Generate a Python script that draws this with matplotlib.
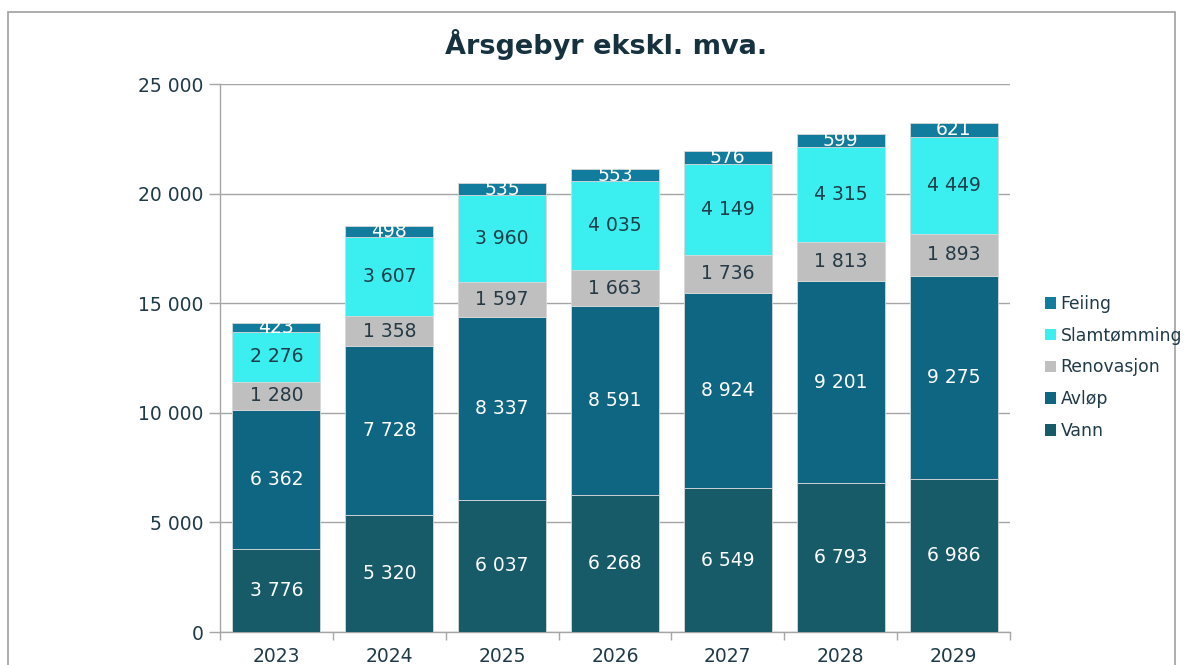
import matplotlib
matplotlib.use("Agg")
import matplotlib.pyplot as plt
from matplotlib.patches import Rectangle, Patch

years = ["2023", "2024", "2025", "2026", "2027", "2028", "2029"]
vann = [3776, 5320, 6037, 6268, 6549, 6793, 6986]
avlop = [6362, 7728, 8337, 8591, 8924, 9201, 9275]
renovasjon = [1280, 1358, 1597, 1663, 1736, 1813, 1893]
slamtomming = [2276, 3607, 3960, 4035, 4149, 4315, 4449]
feiing = [423, 498, 535, 553, 576, 599, 621]

series = [
    ("Vann", vann, "#175A68", "white"),
    ("Avløp", avlop, "#0E6682", "white"),
    ("Renovasjon", renovasjon, "#BFBFBF", "#253A46"),
    ("Slamtømming", slamtomming, "#3BEFF0", "#1E3C48"),
    ("Feiing", feiing, "#127C9E", "white"),
]
yticks = [0, 5000, 10000, 15000, 20000, 25000]
title = "Årsgebyr ekskl. mva."

def fmt(v):
    return f"{v:,}".replace(",", " ")

plt.rcParams['font.family'] = ['DejaVu Sans']
txt = "#1F3A48"

fig = plt.figure(figsize=(11.93, 6.65), dpi=100)
W, H = 1193, 665
ax = fig.add_axes([220 / W, 1 - 632 / H, (1010 - 220) / W, (632 - 84) / H])

x = list(range(len(years)))
bottom = [0] * len(years)
for name, vals, col, tc in series:
    ax.bar(x, vals, bottom=bottom, width=0.78, color=col, edgecolor="#D8D8D8",
           linewidth=0.6, zorder=3)
    for i, v in enumerate(vals):
        ax.text(i, bottom[i] + v / 2, fmt(v), ha="center", va="center",
                fontsize=13.5, color=tc, zorder=4)
    bottom = [b + v for b, v in zip(bottom, vals)]

ax.set_xlim(-0.5, len(years) - 0.5)
ax.set_ylim(0, 25000)
ax.set_yticks(yticks)
ax.set_yticklabels([fmt(t) for t in yticks], fontsize=13.5, color=txt)
ax.yaxis.grid(True, color="#A6A6A6", linewidth=1.0, zorder=0)
ax.set_axisbelow(True)

ax.set_xticks(x)
ax.set_xticklabels(years, fontsize=13.5, color=txt)
ax.tick_params(axis="x", length=0, pad=11)
ax.set_xticks([i - 0.5 for i in range(len(years) + 1)], minor=True)
ax.tick_params(axis="x", which="minor", length=6, color="#A6A6A6", width=1)
ax.tick_params(axis="y", length=8, color="#A6A6A6", width=1, pad=4)

for s in ["top", "right"]:
    ax.spines[s].set_visible(False)
for s in ["left", "bottom"]:
    ax.spines[s].set_color("#A6A6A6")
    ax.spines[s].set_linewidth(1)

fig.text(606 / W, 1 - 45 / H, title, ha="center", va="center",
         fontsize=19.5, fontweight="bold", color="#17323F")

handles = [Patch(facecolor=col, edgecolor="none", label=name)
           for name, vals, col, tc in reversed(series)]
leg = fig.legend(handles=handles, loc="upper left",
                 bbox_to_anchor=(1038 / W, 1 - 288 / H), frameon=False,
                 fontsize=12.4, handlelength=0.65, handleheight=0.65,
                 handletextpad=0.25, labelspacing=0.8, borderaxespad=0)
for t in leg.get_texts():
    t.set_color(txt)

fig.patches.append(Rectangle((8 / W, -0.05), (1175 - 8) / W, 1.05 - 12 / H,
                             transform=fig.transFigure, fill=False,
                             edgecolor="#A0A0A0", linewidth=1.2))

fig.savefig("out.png", dpi=100)
